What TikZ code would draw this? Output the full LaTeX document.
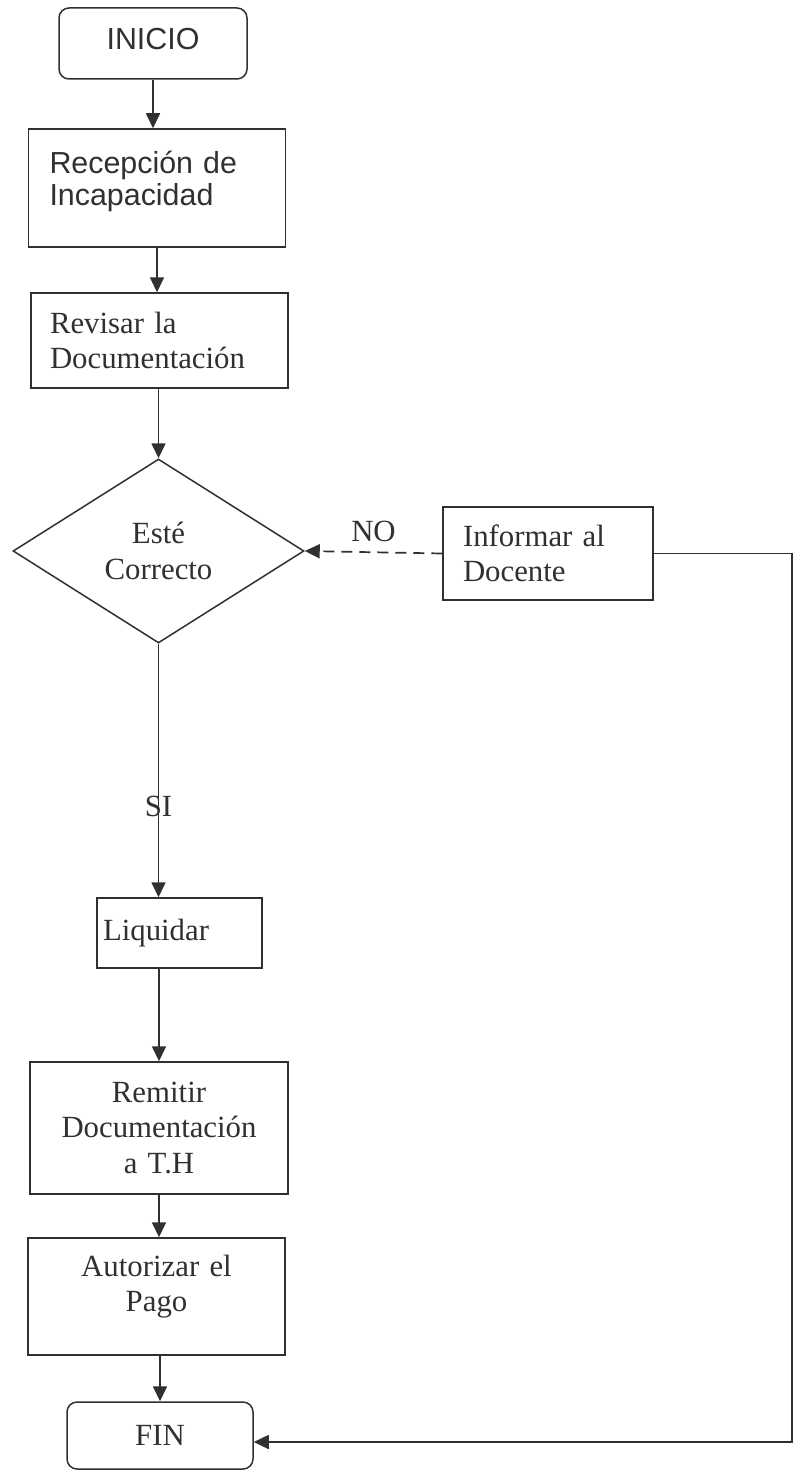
\documentclass[tikz,border=0pt]{standalone}
\usepackage{fontspec}
\setmainfont{Liberation Serif}
\setsansfont{Liberation Sans}
\usetikzlibrary{arrows.meta,shapes.geometric}
\definecolor{Ink}{HTML}{303030}
\newcommand\flowrm{\rmfamily\fontsize{30.8}{35.5}\selectfont}
\newcommand\flowsf{\sffamily\fontsize{30.4}{32}\selectfont}

\begin{document}
\begin{tikzpicture}[x=1pt,y=-1pt,
    proc/.style={draw=Ink,line width=1.5pt,text=Ink,font=\flowrm,inner ysep=4pt},
    term/.style={proc,rounded corners=10pt},
    flow/.style={Ink,line width=1.7pt,-{Triangle[length=15pt,width=14pt]}},
    tag/.style={text=Ink,font=\flowrm}]
      \useasboundingbox (0,0) rectangle (794,1471);
      \node[term,font=\flowsf,minimum width=188pt,minimum height=71pt,text depth=9pt] (inicio) at (153,43.5) {INICIO};
      \node[proc,font=\flowsf,minimum width=257pt,minimum height=118pt,inner xsep=21pt,text width=215pt,align=left,text height=10pt,text depth=38pt] (recep) at (157,188) {Recepción de\\Incapacidad};
      \node[proc,minimum width=257pt,minimum height=95pt,inner xsep=19pt,text width=219pt,align=left] (revisar) at (159.5,340.5) {Revisar la\\Documentación};
      \node[proc,diamond,inner sep=0pt,minimum width=291pt,minimum height=184pt,align=center] (decide) at (158.5,551) {Esté\\Correcto};
      \node[proc,minimum width=210pt,minimum height=93pt,inner xsep=20pt,text width=170pt,align=left] (inform) at (548,553.5) {Informar al\\Docente};
      \node[proc,minimum width=165pt,minimum height=70pt,inner xsep=6pt,text width=153pt,align=left] (liquidar) at (179.5,933) {Liquidar};
      \node[proc,minimum width=258pt,minimum height=132pt,inner xsep=10pt,text width=238pt,align=center] (remitir) at (159,1128) {Remitir\\Documentación\\a T.H};
      \node[proc,minimum width=257pt,minimum height=117pt,inner xsep=10pt,text width=237pt,align=center,text height=10pt,text depth=51pt] (autorizar) at (156.5,1296.5) {Autorizar el\\Pago};
      \node[term,minimum width=186pt,minimum height=67pt] (fin) at (160,1435.5) {FIN};
      \coordinate (edge) at (792,1442);
      \draw[flow] (inicio.south) -- (inicio.south |- recep.north);
      \draw[flow] (recep.south) -- (recep.south |- revisar.north);
      \draw[flow] (revisar.south -| decide.north) -- (decide.north);
      \draw[flow] (decide.south) -- (decide.south |- liquidar.north) node[tag,pos=0.64] (si) {SI};
      \draw[flow] (liquidar.south -| remitir.north) -- (remitir.north);
      \draw[flow] (remitir.south) -- (remitir.south |- autorizar.north);
      \draw[flow] (autorizar.south -| fin.north) -- (fin.north);
      \draw[flow,dash pattern=on 11pt off 7pt] (inform.west) -- (decide.east) node[tag,midway,above=6pt] (no) {NO};
      \draw[flow] (inform.east) -- (inform.east -| edge) -- (edge) -- (fin.east |- edge);
    \end{tikzpicture}
\end{document}
